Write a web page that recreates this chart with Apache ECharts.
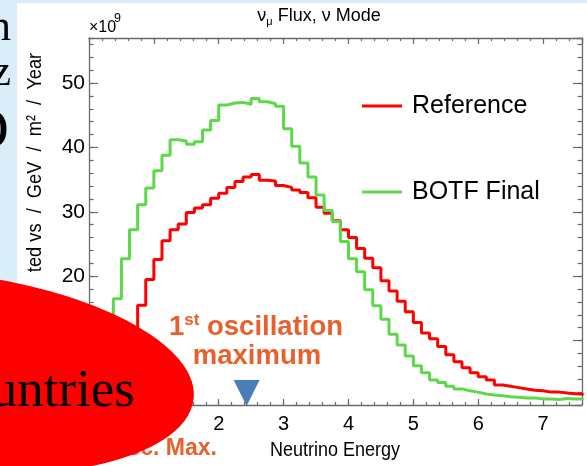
<!DOCTYPE html>
<html><head><meta charset="utf-8">
<script src="https://cdn.jsdelivr.net/npm/echarts@6/dist/echarts.min.js"></script>
<style>html,body{margin:0;padding:0;background:#d9eef8;} #c{width:587px;height:466px;}</style>
</head><body><div id="c"></div>
<script>
// ---- data (bin low edges in GeV, flux in units of 1e9) ----
const energyEdges = [
  0, 0.125, 0.25, 0.375, 0.5, 0.625, 0.75, 0.875,
  1, 1.125, 1.25, 1.375, 1.5, 1.625, 1.75, 1.875,
  2, 2.125, 2.25, 2.375, 2.5, 2.625, 2.75, 2.875,
  3, 3.125, 3.25, 3.375, 3.5, 3.625, 3.75, 3.875,
  4, 4.125, 4.25, 4.375, 4.5, 4.625, 4.75, 4.875,
  5, 5.125, 5.25, 5.375, 5.5, 5.625, 5.75, 5.875,
  6, 6.125, 6.25, 6.375, 6.5, 6.625, 6.75, 6.875,
  7, 7.125, 7.25, 7.375, 7.5
];
const lastUpperEdge = 7.625;
const referenceFlux = [
  0, 0.3, 1.2, 3.5, 7.5, 12.0, 15.5, 19.5,
  22.6, 25.5, 27.2, 28.1, 29.9, 30.6, 31.1, 32.1,
  32.9, 33.8, 34.7, 35.4, 35.8, 34.9, 34.8, 34.1,
  33.8, 33.4, 33.0, 32.2, 30.7, 29.8, 28.6, 27.2,
  26.0, 24.3, 22.8, 21.3, 19.3, 17.7, 16.1, 14.5,
  12.8, 11.2, 10.3, 9.1, 7.8, 6.7, 5.8, 5.0,
  4.4, 3.9, 3.1, 2.9, 2.7, 2.5, 2.3, 2.2,
  2.0, 2.0, 1.85, 1.75, 1.65
];
const botfFlux = [
  0.3, 2.5, 8.5, 16.5, 22.7, 27.2, 31.1, 33.7,
  36.4, 38.8, 41.2, 41.0, 40.5, 40.9, 42.7, 44.2,
  46.6, 46.9, 47.0, 46.7, 47.6, 47.1, 46.8, 46.4,
  42.9, 40.2, 37.6, 35.4, 32.6, 30.2, 28.5, 25.4,
  22.7, 20.7, 17.9, 15.4, 13.3, 11.0, 9.3, 7.6,
  6.1, 5.0, 3.9, 3.5, 2.9, 2.5, 2.2, 2.0,
  1.7, 1.55, 1.45, 1.3, 1.2, 1.1, 1.1, 0.95,
  0.95, 0.85, 1.0, 0.95, 0.95
];
const seriesNames = ['Reference', 'BOTF Final'];
const xTickValues = [0, 1, 2, 3, 4, 5, 6, 7];
const yTickValues = [0, 10, 20, 30, 40, 50];
const oscMaxEnergy = 2.43;

// ---- styling ----
const SANS = "'Liberation Sans', Arial, sans-serif";
const AX = '#6a6a6a';
const RED = '#ff0000', GREEN = '#5cd84a', ORANGE = '#e8602c', BLUE = '#4a7ebb';
const X_MIN = 0, X_MAX = 7.6, Y_MIN = 0, Y_MAX = 57;

function hist(vals) {
  const d = energyEdges.map((e, i) => [e, vals[i]]);
  d.push([lastUpperEdge, vals[vals.length - 1]]);
  return d;
}
function xAx(pos, interval, len, showLine, labels) {
  return {
    type: 'value', position: pos, min: X_MIN, max: X_MAX, interval: interval,
    axisLine: { show: showLine, onZero: false, lineStyle: { color: AX, width: 1.3 } },
    axisTick: { show: true, inside: true, length: len, lineStyle: { color: AX, width: 1.2 } },
    axisLabel: labels ? {
      show: true, margin: 9, fontFamily: SANS, fontSize: 20, color: '#000',
      showMaxLabel: false,
      formatter: v => xTickValues.includes(v) ? String(v) : ''
    } : { show: false },
    splitLine: { show: false }
  };
}
function yAx(pos, interval, len, showLine, labels) {
  return {
    type: 'value', position: pos, min: Y_MIN, max: Y_MAX, interval: interval,
    axisLine: { show: showLine, onZero: false, lineStyle: { color: AX, width: 1.3 } },
    axisTick: { show: true, inside: true, length: len, lineStyle: { color: AX, width: 1.2 } },
    axisLabel: labels ? {
      show: true, margin: 4, fontFamily: SANS, fontSize: 21, color: '#000',
      showMaxLabel: false,
      formatter: v => yTickValues.includes(v) ? String(v) : ''
    } : { show: false },
    splitLine: { show: false }
  };
}

const chart = echarts.init(document.getElementById('c'), null, { renderer: 'canvas' });
chart.setOption({
  animation: false,
  backgroundColor: '#d9eef8',
  grid: { left: 89, top: 38, width: 493, height: 367, containLabel: false },
  xAxis: [
    xAx('bottom', 1, 6, true, true),
    xAx('bottom', 0.2, 3, false, false),
    xAx('top', 1, 6, true, false),
    xAx('top', 0.2, 3, false, false)
  ],
  yAxis: [
    yAx('left', 10, 9, true, true),
    yAx('left', 2, 4.5, false, false),
    yAx('right', 10, 9, true, false),
    yAx('right', 2, 4.5, false, false)
  ],
  legend: {
    orient: 'vertical', left: 362, top: 90, padding: 0, itemWidth: 40, itemHeight: 3, itemGap: 54,
    icon: 'rect', selectedMode: false,
    textStyle: { fontFamily: SANS, fontSize: 25, color: '#000', lineHeight: 32, padding: [0, 0, 0, 5] },
    data: seriesNames
  },
  series: [
    { name: seriesNames[0], type: 'line', step: 'end', data: hist(referenceFlux), symbol: 'none',
      xAxisIndex: 0, yAxisIndex: 0, lineStyle: { color: RED, width: 3 }, itemStyle: { color: RED }, z: 3 },
    { name: seriesNames[1], type: 'line', step: 'end', data: hist(botfFlux), symbol: 'none',
      xAxisIndex: 0, yAxisIndex: 0, lineStyle: { color: GREEN, width: 3 }, itemStyle: { color: GREEN }, z: 4 }
  ]
});

// annotation positions derived from the axes
const arrowTip = chart.convertToPixel({ xAxisIndex: 0, yAxisIndex: 0 }, [oscMaxEnergy, 0]);

chart.setOption({
  graphic: [
    { type: 'rect', z: -10, silent: true, shape: { x: 17, y: 3, width: 570, height: 463 }, style: { fill: '#ffffff' } },
    // cut-off slide text on the left
    { type: 'text', z: 5, x: 11, y: 28, style: { text: 'n', font: "44px 'Liberation Serif'", fill: '#000', align: 'right', verticalAlign: 'middle' } },
    { type: 'text', z: 5, x: 11, y: 73, style: { text: 'z', font: "44px 'Liberation Serif'", fill: '#000', align: 'right', verticalAlign: 'middle' } },
    { type: 'text', z: 5, x: 9, y: 133, style: { text: 'O', font: "58px 'Liberation Serif'", fill: '#000', align: 'right', verticalAlign: 'middle' } },
    // title
    { type: 'text', z: 5, x: 319, y: 16, style: {
        text: '{t|ν}{s|μ}{t| Flux, ν Mode}', align: 'center', verticalAlign: 'middle',
        rich: { t: { fontFamily: SANS, fontSize: 18, lineHeight: 22, fill: '#000', verticalAlign: 'middle' },
                s: { fontFamily: SANS, fontSize: 11, lineHeight: 22, fill: '#000', verticalAlign: 'bottom' } } } },
    // exponent
    { type: 'text', z: 5, x: 89, y: 28, style: { text: '×10', fontFamily: SANS, fontSize: 16, fill: '#000', align: 'left', verticalAlign: 'middle' } },
    { type: 'text', z: 5, x: 114, y: 19, style: { text: '9', fontFamily: SANS, fontSize: 12.5, fill: '#000', align: 'left', verticalAlign: 'middle' } },
    // axis titles
    { type: 'text', z: 5, x: 35, y: 162.5, rotation: Math.PI / 2, scaleX: 0.89, style: {
        text: 'ted vs  /  GeV  /  m²  /  Year', fontFamily: SANS, fontSize: 20.5, fill: '#000', align: 'center', verticalAlign: 'middle' } },
    { type: 'text', z: 5, x: 400, y: 450, scaleX: 0.9, style: { text: 'Neutrino Energy', fontFamily: SANS, fontSize: 20, fill: '#000', align: 'right', verticalAlign: 'middle' } },
    // oscillation maximum annotation
    { type: 'text', z: 20, x: 256, y: 327, style: {
        text: '{n|1}{s|st}{n| oscillation}', align: 'center', verticalAlign: 'middle',
        rich: { n: { fontFamily: SANS, fontWeight: 'bold', fontSize: 27.5, lineHeight: 30, fill: ORANGE, verticalAlign: 'middle' },
                s: { fontFamily: SANS, fontWeight: 'bold', fontSize: 17, lineHeight: 30, fill: ORANGE, verticalAlign: 'top' } } } },
    { type: 'text', z: 20, x: 257, y: 356, style: { text: 'maximum', fontFamily: SANS, fontWeight: 'bold', fontSize: 27.5, fill: ORANGE, align: 'center', verticalAlign: 'middle' } },
    { type: 'text', z: 20, x: 217, y: 449, style: { text: 'Osc. Max.', fontFamily: SANS, fontWeight: 'bold', fontSize: 23, fill: ORANGE, align: 'right', verticalAlign: 'middle' } },
    { type: 'polygon', z: 20, shape: { points: [[arrowTip[0] - 13, arrowTip[1] - 25], [arrowTip[0] + 13, arrowTip[1] - 25], [arrowTip[0], arrowTip[1] + 1]] }, style: { fill: BLUE } },
    // red ellipse (slightly tilted) with text
    { type: 'ellipse', z: 50, x: -60, y: 372, rotation: -6 * Math.PI / 180, shape: { cx: 0, cy: 0, rx: 255, ry: 100 }, style: { fill: '#ff0000' } },
    { type: 'text', z: 51, x: 135, y: 392, style: { text: 'Countries', font: "53px 'Liberation Serif'", fill: '#000', align: 'right', verticalAlign: 'middle' } }
  ]
});
</script>
</body></html>
